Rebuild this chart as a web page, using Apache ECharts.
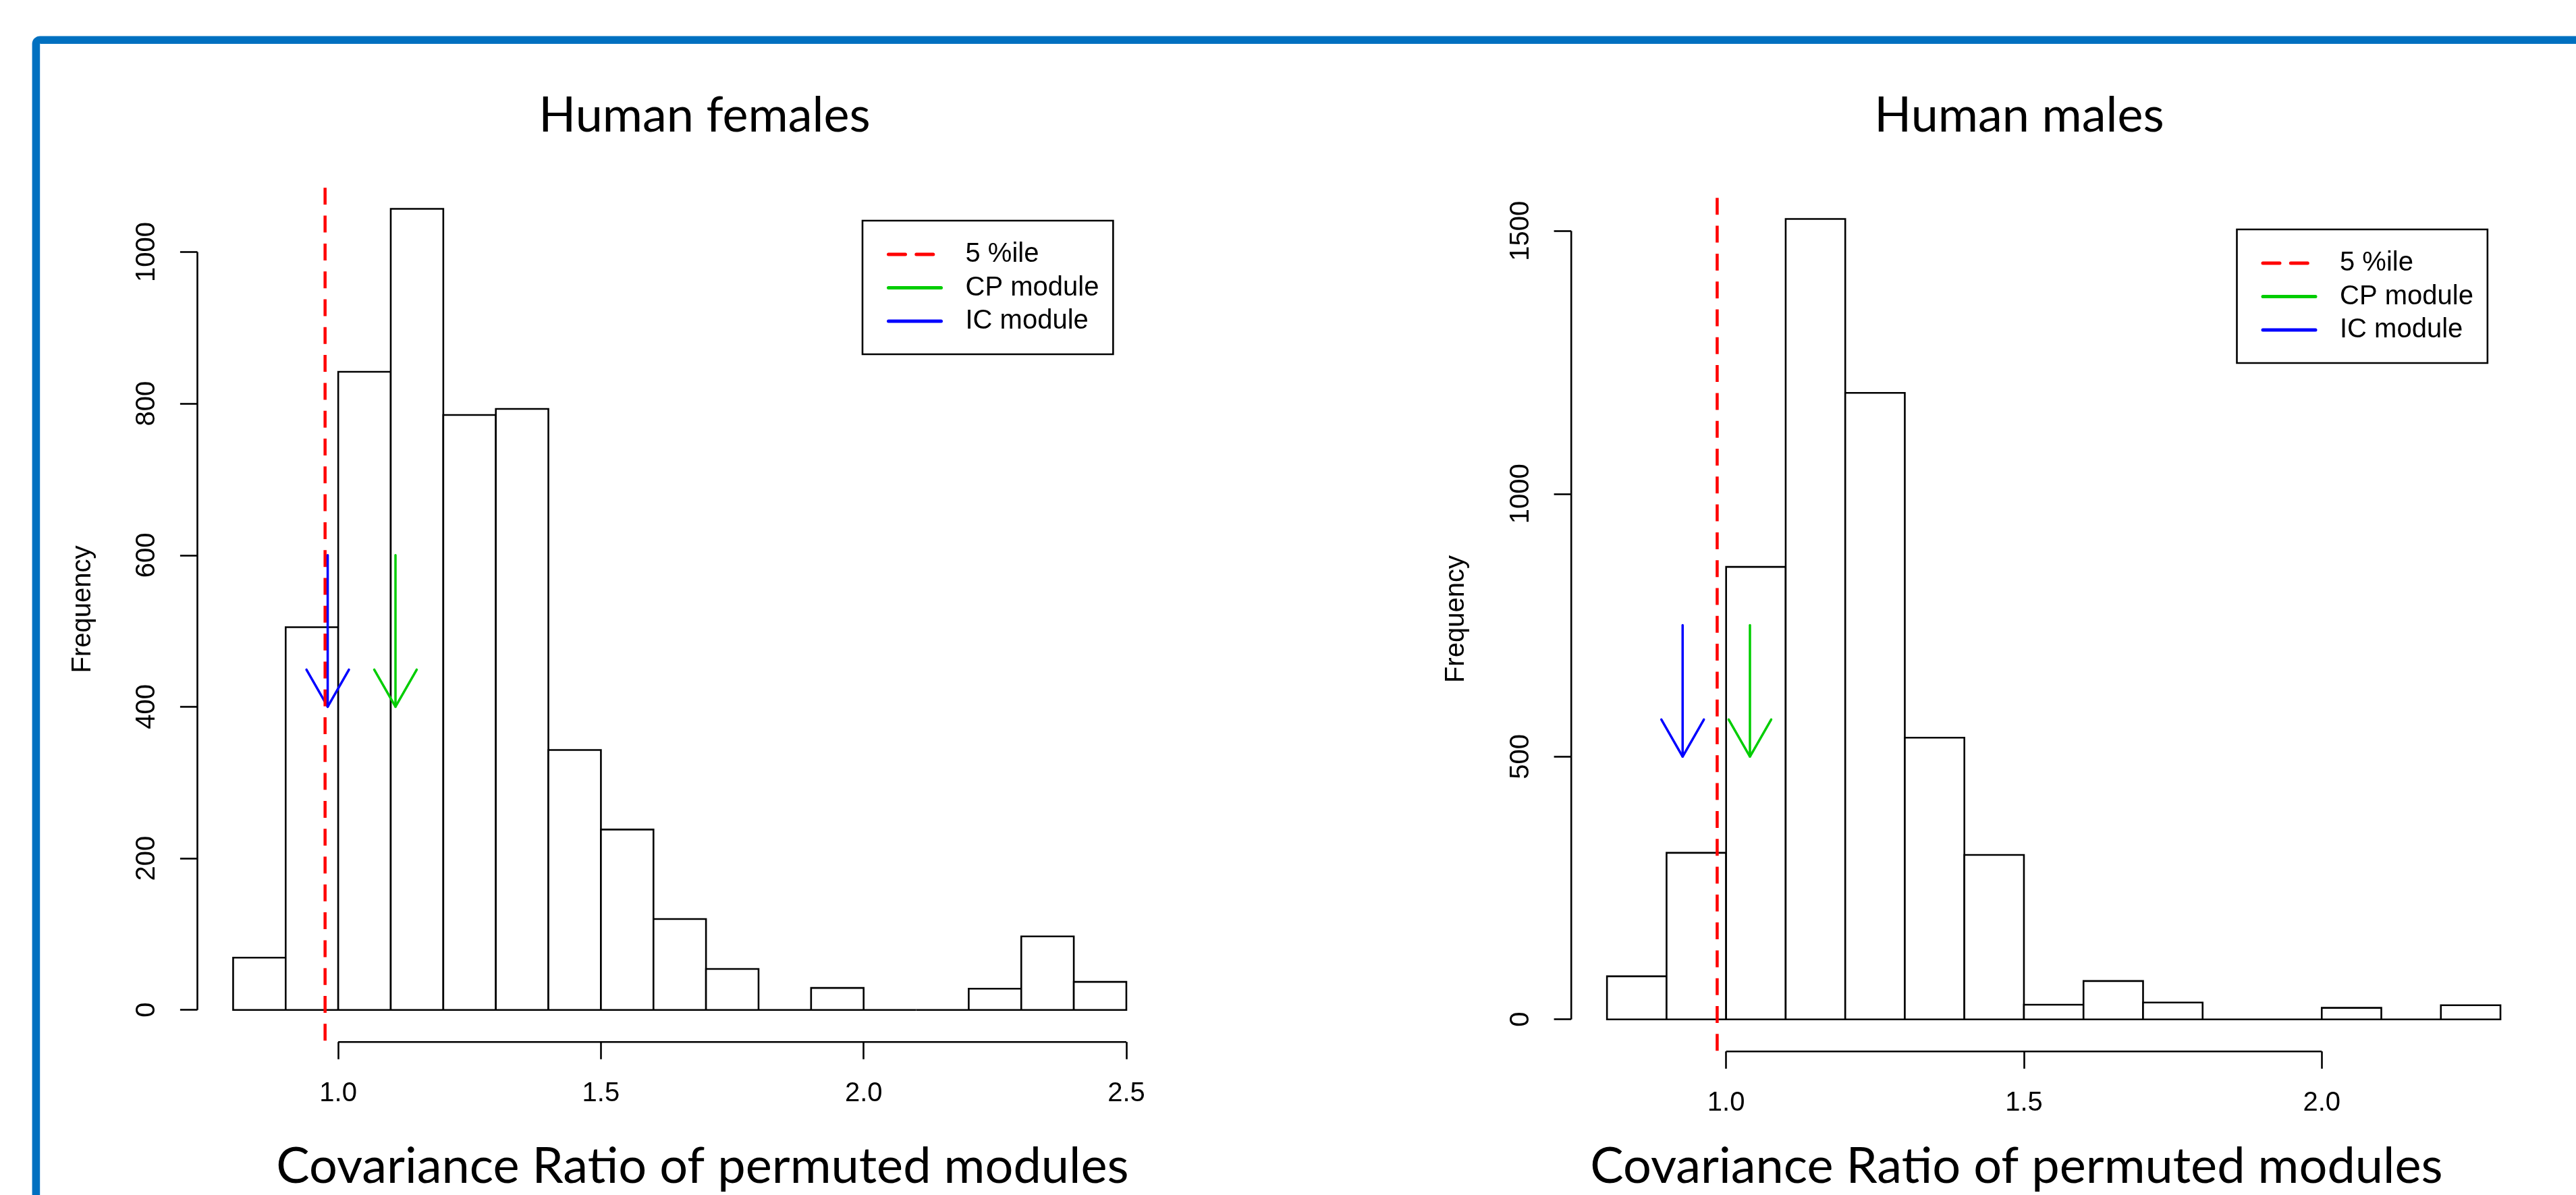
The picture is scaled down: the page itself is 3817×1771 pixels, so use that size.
<!DOCTYPE html>
<html><head><meta charset="utf-8">
<script src="https://cdn.jsdelivr.net/npm/echarts@6/dist/echarts.min.js"></script>
<style>html,body{margin:0;padding:0;background:#fff}#c{width:3817px;height:1771px}</style>
</head><body><div id="c"></div>
<script>
// ---------- data ----------
const panelTitles = ['Human females', 'Human males'];
const xTitle = 'Covariance Ratio of permuted modules';
const yTitle = 'Frequency';
const legendNames = ['5 %ile', 'CP module', 'IC module'];

const femaleBreaks = [0.8, 0.9, 1.0, 1.1, 1.2, 1.3, 1.4, 1.5, 1.6, 1.7, 1.8, 1.9, 2.0, 2.1, 2.2, 2.3, 2.4, 2.5];
const femaleCounts = [69, 505, 842, 1057, 785, 793, 343, 238, 120, 54, 0, 29, 0, 0, 28, 97, 37];
const femaleXTicks = [1.0, 1.5, 2.0, 2.5];
const femaleYTicks = [0, 200, 400, 600, 800, 1000];
const femalePercentile = 0.975;
const femaleCP = 1.109;
const femaleIC = 0.980;
const femaleArrowFromTo = [600, 400];

const maleBreaks = [0.8, 0.9, 1.0, 1.1, 1.2, 1.3, 1.4, 1.5, 1.6, 1.7, 1.8, 1.9, 2.0, 2.1, 2.2, 2.3];
const maleCounts = [82, 317, 861, 1523, 1192, 536, 313, 28, 73, 32, 0, 0, 22, 0, 27];
const maleXTicks = [1.0, 1.5, 2.0];
const maleYTicks = [0, 500, 1000, 1500];
const malePercentile = 0.985;
const maleCP = 1.040;
const maleIC = 0.927;
const maleArrowFromTo = [750, 500];

// ---------- layout / style ----------
const grids = [
  {left: 292.5, top: 262, width: 1429.4, height: 1282.2},
  {left: 2328.2, top: 277, width: 1429.8, height: 1281.2}
];
const titleX = [1044, 2992];
const titleY = 172;
const xTitleX = [1041, 2988];
const xTitleY = 1729;
const legendPos = [{left: 1278, top: 327}, {left: 3314.5, top: 340}];
const RED = '#FF0000', GREEN = '#00CD00', BLUE = '#0000FF';
const LW = 2.6;
const DASH = [25, 16.3];
const RFONT = 'Liberation Sans, Arial, sans-serif';
const PFONT = 'Lato, "Open Sans", sans-serif';

const panels = [
  {breaks: femaleBreaks, counts: femaleCounts, xt: femaleXTicks, yt: femaleYTicks,
   pct: femalePercentile, cp: femaleCP, ic: femaleIC, ft: femaleArrowFromTo},
  {breaks: maleBreaks, counts: maleCounts, xt: maleXTicks, yt: maleYTicks,
   pct: malePercentile, cp: maleCP, ic: maleIC, ft: maleArrowFromTo}
];

const option = {
  animation: false,
  backgroundColor: '#fff',
  grid: [], xAxis: [], yAxis: [], series: [], legend: [],
  graphic: []
};

panels.forEach((p, i) => {
  const x0 = p.breaks[0], x1 = p.breaks[p.breaks.length - 1];
  const xe = 0.04 * (x1 - x0);
  const ymax = Math.max.apply(null, p.counts);
  const ye = 0.04 * ymax;
  const xmin = x0 - xe, xmax = x1 + xe, ymin = -ye, ymaxR = ymax + ye;

  option.grid.push(Object.assign({containLabel: false}, grids[i]));
  option.xAxis.push({
    type: 'value', gridIndex: i, min: xmin, max: xmax,
    axisLine: {show: false, onZero: false},
    splitLine: {show: false},
    axisTick: {show: true, customValues: p.xt, length: 25.6, lineStyle: {color: '#000', width: LW}},
    axisLabel: {show: true, customValues: p.xt, margin: 57, fontSize: 40, fontFamily: RFONT, color: '#000',
      formatter: v => Number(v).toFixed(1)}
  });
  option.yAxis.push({
    type: 'value', gridIndex: i, min: ymin, max: ymaxR,
    axisLine: {show: false, onZero: false},
    splitLine: {show: false},
    axisTick: {show: true, customValues: p.yt, length: 25.6, lineStyle: {color: '#000', width: LW}},
    axisLabel: {show: true, customValues: p.yt, rotate: 90, margin: 54.5, fontSize: 40, fontFamily: RFONT, color: '#000',
      formatter: v => String(Math.round(v))},
    name: yTitle, nameLocation: 'middle', nameRotate: 90, nameGap: 150,
    nameTextStyle: {fontSize: 40, fontFamily: RFONT, color: '#000'}
  });

  const bins = p.counts.map((c, k) => [p.breaks[k], p.breaks[k + 1], c]);
  option.series.push({
    type: 'custom', xAxisIndex: i, yAxisIndex: i, data: bins, silent: true, clip: false,
    renderItem: (params, api) => {
      const a = api.coord([api.value(0), api.value(2)]);
      const b = api.coord([api.value(1), 0]);
      return {type: 'rect', shape: {x: a[0], y: a[1], width: b[0] - a[0], height: b[1] - a[1]},
        style: {fill: '#fff', stroke: '#000', lineWidth: LW}};
    }
  });
  // axis line segments (R style: only from first to last tick)
  option.series.push({
    type: 'line', xAxisIndex: i, yAxisIndex: i, clip: false, symbol: 'none', silent: true,
    data: [[p.xt[0], ymin], [p.xt[p.xt.length - 1], ymin]],
    lineStyle: {color: '#000', width: LW}
  });
  option.series.push({
    type: 'line', xAxisIndex: i, yAxisIndex: i, clip: false, symbol: 'none', silent: true,
    data: [[xmin, p.yt[0]], [xmin, p.yt[p.yt.length - 1]]],
    lineStyle: {color: '#000', width: LW}
  });
  // 5 %ile line (drawn top to bottom, starting in a gap)
  option.series.push({
    name: legendNames[0], type: 'line', xAxisIndex: i, yAxisIndex: i, clip: false, symbol: 'none', silent: true,
    data: [[p.pct, ymaxR], [p.pct, ymin]],
    lineStyle: {color: RED, width: 4.5, type: DASH, dashOffset: 25, cap: 'butt'}, itemStyle: {color: RED}
  });
  // arrows
  option.series.push({
    name: legendNames[1], type: 'line', xAxisIndex: i, yAxisIndex: i, clip: false, symbol: 'none', silent: true,
    data: [[p.cp, p.ft[0]], [p.cp, p.ft[1]]],
    lineStyle: {color: GREEN, width: 3.5, cap: 'round'}, itemStyle: {color: GREEN}
  });
  option.series.push({
    name: legendNames[2], type: 'line', xAxisIndex: i, yAxisIndex: i, clip: false, symbol: 'none', silent: true,
    data: [[p.ic, p.ft[0]], [p.ic, p.ft[1]]],
    lineStyle: {color: BLUE, width: 3.5, cap: 'round'}, itemStyle: {color: BLUE}
  });
  const heads = [[p.cp, p.ft[1], 0], [p.ic, p.ft[1], 1]];
  option.series.push({
    type: 'custom', xAxisIndex: i, yAxisIndex: i, data: heads, silent: true, clip: false,
    renderItem: (params, api) => {
      const t = api.coord([api.value(0), api.value(1)]);
      const col = api.value(2) === 0 ? GREEN : BLUE;
      return {type: 'polyline', shape: {points: [[t[0] - 31.5, t[1] - 55], [t[0], t[1]], [t[0] + 31.5, t[1] - 55]]},
        style: {stroke: col, lineWidth: 3.5, fill: null, lineJoin: 'round', lineCap: 'round'}};
    }
  });

  option.legend.push({
    data: legendNames, orient: 'vertical', left: legendPos[i].left, top: legendPos[i].top,
    padding: [30, 21, 29, 36], itemWidth: 78, itemHeight: 40, itemGap: 9.5,
    borderColor: '#000', borderWidth: LW, backgroundColor: '#fff', selectedMode: false,
    lineStyle: {width: 5, cap: 'round', dashOffset: 0},
    itemStyle: {color: 'rgba(0,0,0,0)', borderColor: 'rgba(0,0,0,0)', borderWidth: 0, opacity: 0},
    textStyle: {fontSize: 40, fontFamily: RFONT, color: '#000', lineHeight: 40, padding: [0, 0, 0, 31]}
  });

  option.graphic.push({type: 'text', x: titleX[i], y: titleY, z: 10,
    style: {text: panelTitles[i], font: '72px ' + PFONT, fill: '#000', textAlign: 'center', textVerticalAlign: 'middle'}});
  option.graphic.push({type: 'text', x: xTitleX[i], y: xTitleY, z: 10,
    style: {text: xTitle, font: '74px ' + PFONT, fill: '#000', textAlign: 'center', textVerticalAlign: 'middle'}});
});

option.graphic.push({type: 'rect', z: 20, silent: true,
  shape: {x: 53.4, y: 59.2, width: 4000, height: 2000, r: 6},
  style: {fill: 'none', stroke: '#0070C0', lineWidth: 11.6}});

const chart = echarts.init(document.getElementById('c'), null, {renderer: 'canvas'});
chart.setOption(option);
</script>
</body></html>
